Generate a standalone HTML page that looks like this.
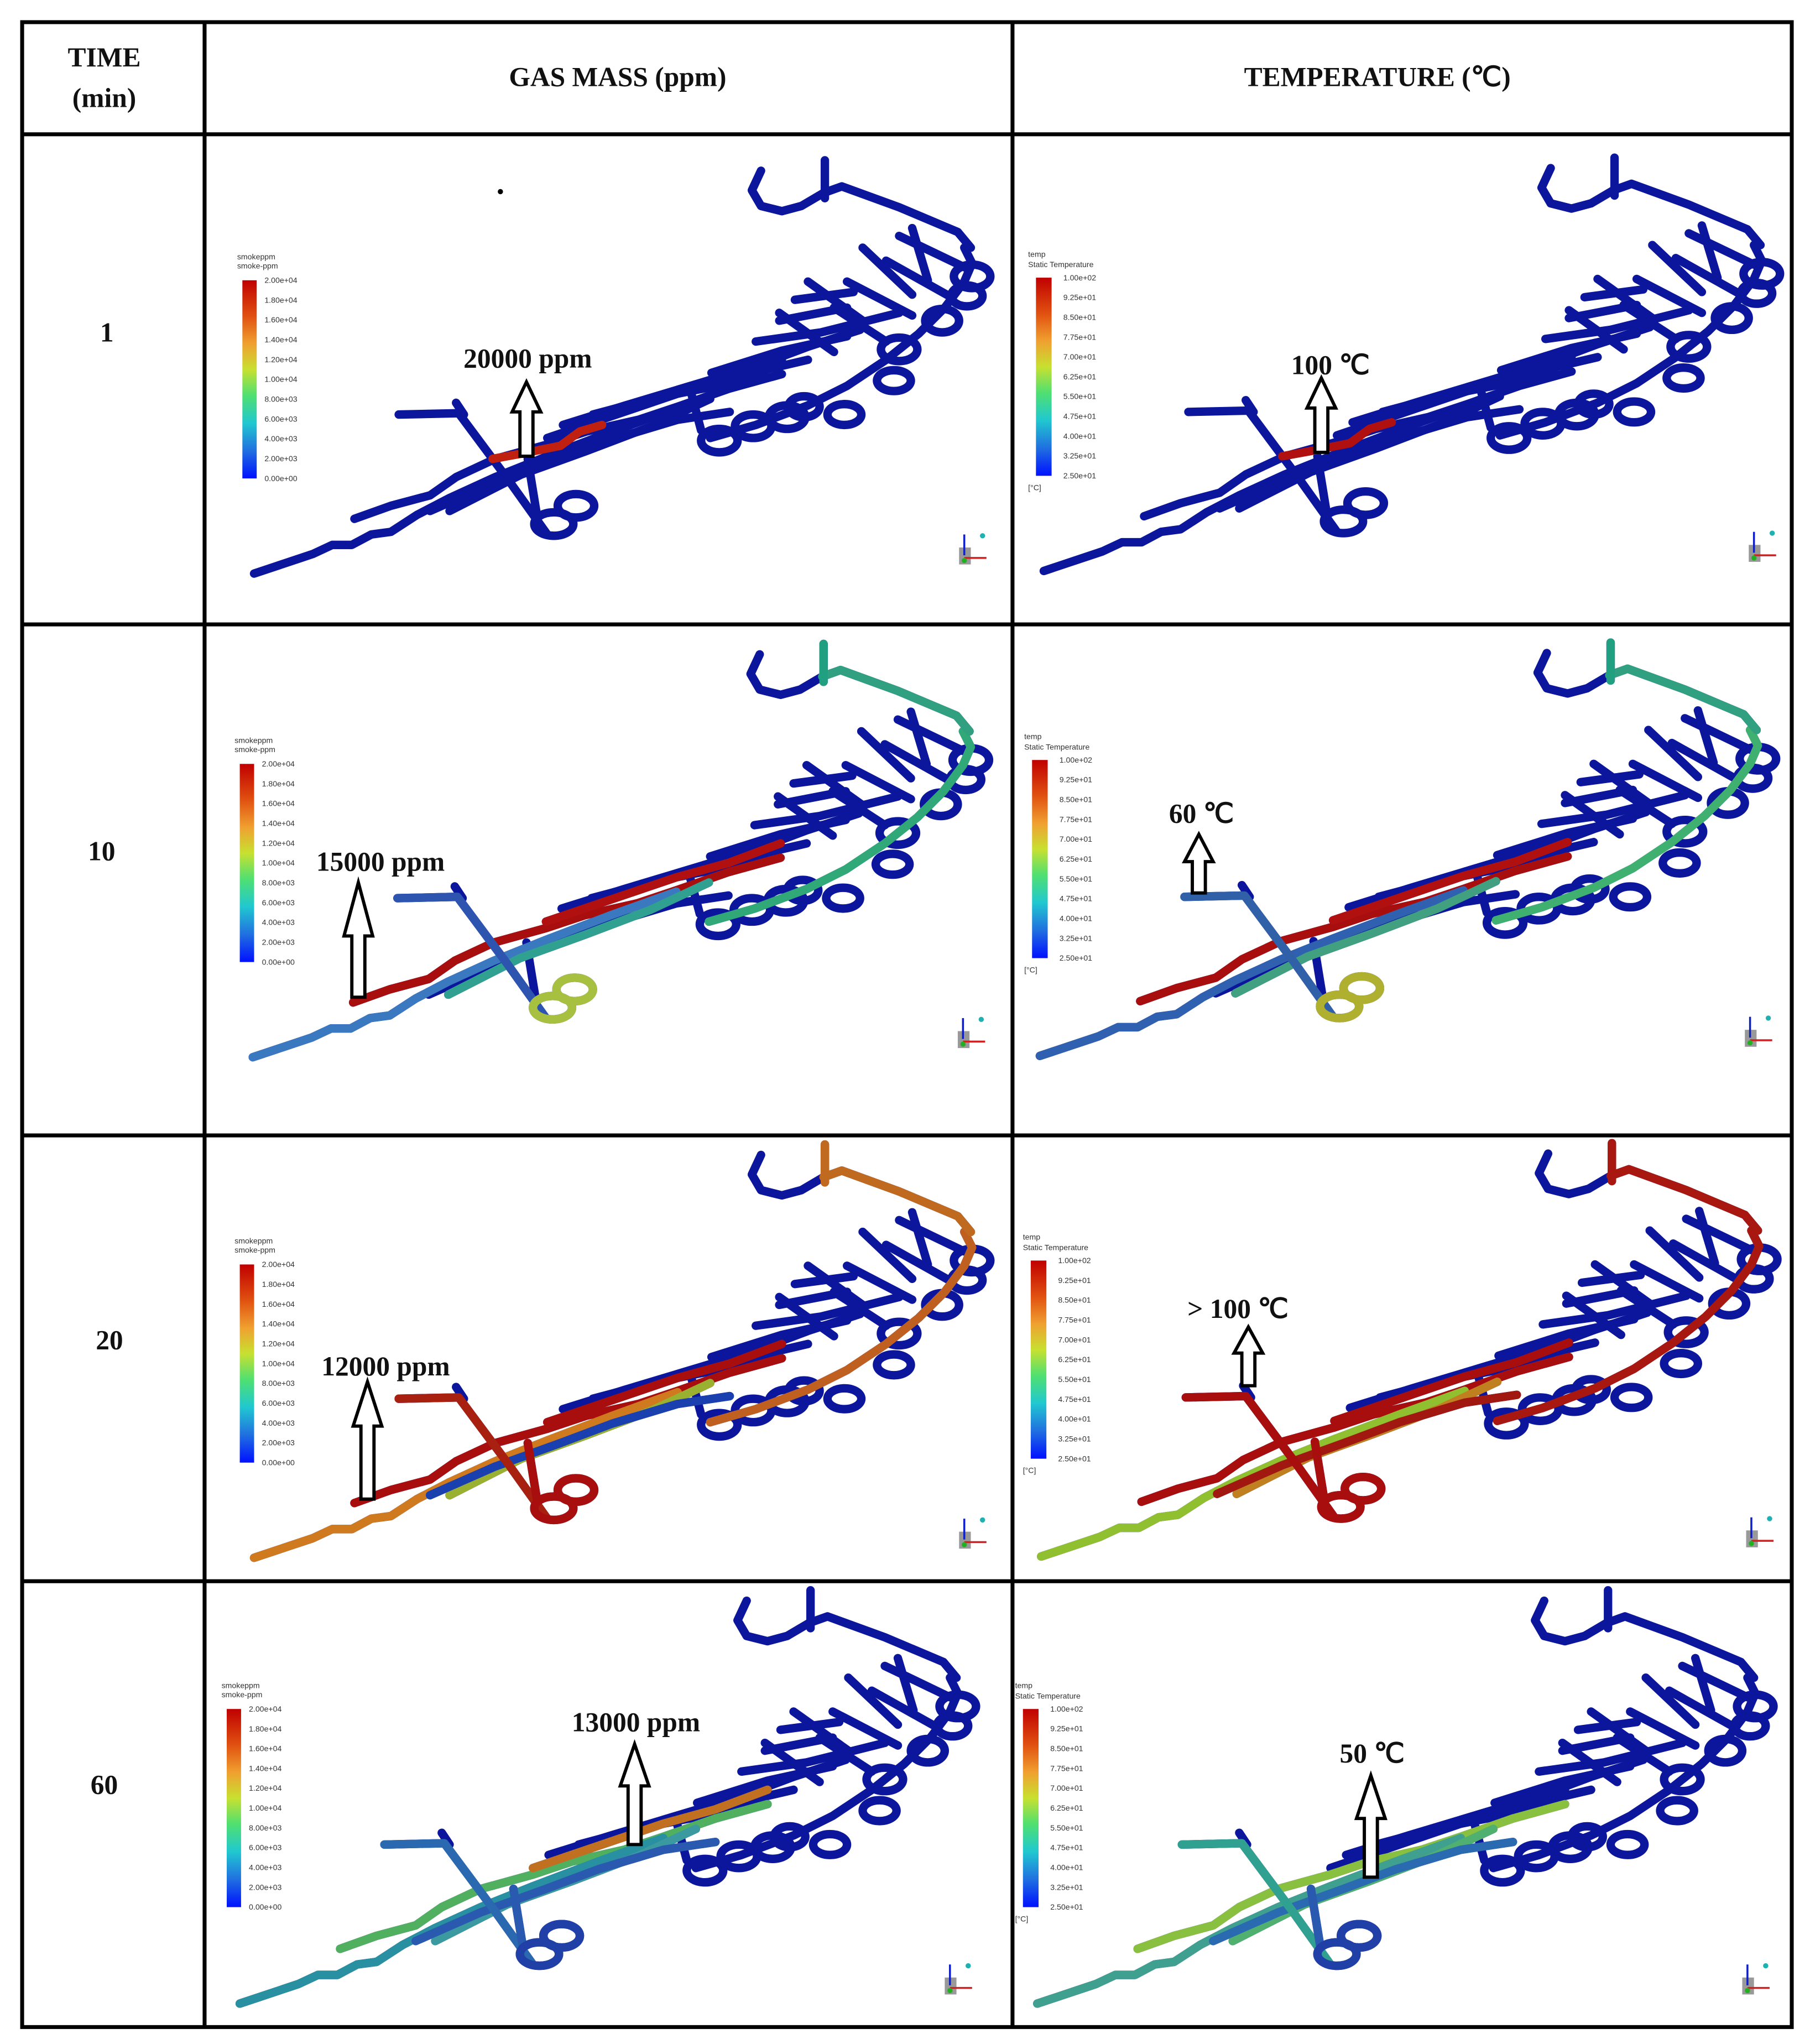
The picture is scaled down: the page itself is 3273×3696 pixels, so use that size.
<!DOCTYPE html>
<html><head><meta charset="utf-8"><style>
html,body{margin:0;padding:0;background:#fff;}
svg{display:block;}
.hd{font-family:"Liberation Serif",serif;font-weight:bold;font-size:21px;fill:#111;text-anchor:middle;}
.an{font-family:"Liberation Serif",serif;font-weight:bold;font-size:21px;fill:#111;text-anchor:middle;}
.lg{font-family:"Liberation Sans",sans-serif;font-size:6px;fill:#333;}
</style></head><body>
<svg id="fig" width="3273" height="3696" viewBox="0 0 1389 1568" preserveAspectRatio="none" xmlns="http://www.w3.org/2000/svg">
<defs>
<linearGradient id="cmap" x1="0" y1="0" x2="0" y2="1">
<stop offset="0" stop-color="#c00000"/><stop offset="0.18" stop-color="#e05010"/><stop offset="0.32" stop-color="#f0a030"/><stop offset="0.45" stop-color="#c8e030"/><stop offset="0.58" stop-color="#50e070"/><stop offset="0.72" stop-color="#20c8d0"/><stop offset="0.86" stop-color="#2070e0"/><stop offset="1" stop-color="#0010ff"/>
</linearGradient>
<path id="pTrunk" d="M195,440 L240,425 L255,418 L270,418 L285,410 L300,408 L320,395 L345,382 L380,366 L420,350 L470,331 L520,313"/>
<path id="pUpper" d="M272,398 L300,388 L330,380 L350,366 L380,352 L420,341 L450,331 L490,322 L520,312 L560,298 L600,287"/>
<path id="pMid1" d="M330,392 L380,370 L430,352 L470,337 L520,322 L560,316"/>
<path id="pMid2" d="M345,392 L400,364 L450,346 L500,327 L545,306"/>
<path id="pBranch" d="M306,318 L352,317 L390,368 L420,410"/>
<path id="pBranchTop" d="M350,309 L356,318"/>
<path id="pC1" d="M420,336 L470,319 L520,302 L560,291 L600,276"/>
<path id="pC2" d="M432,326 L480,311 L530,296 L580,281"/>
<path id="pC3" d="M455,318 L500,306 L550,296 L590,283 L620,276"/>
<path id="pC4" d="M520,299 L580,281 L620,266 L660,253"/>
<path id="pC5" d="M546,286 L600,269 L650,258"/>
<path id="pC6" d="M580,262 L630,255 L690,240"/>
<path id="pC7" d="M598,246 L650,236"/>
<path id="pC8" d="M610,230 L655,224"/>
<path id="pSpine" d="M740,190 L746,202 L740,216 L725,236 L705,256 L680,276 L650,296 L620,311 L580,326 L545,336"/>
<path id="pHook" d="M584,131 L577,146 L584,158 L600,162 L615,158 L632,148"/>
<path id="pTopR" d="M632,148 L646,143 L690,159 L735,178 L745,190"/>
<path id="pTopStem" d="M633,123 L633,152"/>
<path id="pX1" d="M690,181 L740,205"/>
<path id="pX2" d="M680,200 L730,228"/>
<path id="pX3" d="M650,216 L700,242"/>
<path id="pX4" d="M640,236 L680,262"/>
<path id="pX5" d="M700,175 L712,215"/>
<path id="pX6" d="M662,190 L700,226"/>
<path id="pX7" d="M620,216 L662,246"/>
<path id="pX8" d="M598,240 L640,270"/>
<path id="pX9" d="M530,300 L538,330"/>
<path id="pX10" d="M405,352 L412,395"/>
<path id="pHot1" d="M378,352 L400,348 L430,342 L445,331 L462,326"/>
<g id="loopsA">
<ellipse cx="425" cy="402" rx="15" ry="9"/><ellipse cx="442" cy="388" rx="14" ry="9"/>
</g>
<g id="loopsB">
<ellipse cx="552" cy="338" rx="14" ry="9"/><ellipse cx="578" cy="327" rx="14" ry="9"/>
<ellipse cx="604" cy="320" rx="14" ry="9"/><ellipse cx="617" cy="312" rx="12" ry="8"/>
<ellipse cx="690" cy="268" rx="14" ry="9"/><ellipse cx="686" cy="292" rx="13" ry="8"/>
<ellipse cx="723" cy="246" rx="13" ry="9"/><ellipse cx="746" cy="212" rx="14" ry="9"/>
<ellipse cx="742" cy="227" rx="12" ry="8"/><ellipse cx="648" cy="318" rx="13" ry="8"/>
</g>
<g id="net" fill="none" stroke-linecap="round" stroke-linejoin="round">
<use href="#pTrunk"/><use href="#pUpper"/><use href="#pMid1"/><use href="#pMid2"/><use href="#pBranch"/><use href="#pBranchTop"/>
<use href="#pC1"/><use href="#pC2"/><use href="#pC3"/><use href="#pC4"/><use href="#pC5"/><use href="#pC6"/><use href="#pC7"/><use href="#pC8"/>
<use href="#pSpine"/><use href="#pHook"/><use href="#pTopR"/><use href="#pTopStem"/>
<use href="#pX1"/><use href="#pX2"/><use href="#pX3"/><use href="#pX4"/><use href="#pX5"/><use href="#pX6"/><use href="#pX7"/><use href="#pX8"/><use href="#pX9"/><use href="#pX10"/>
<use href="#loopsA"/><use href="#loopsB"/>
</g>
<g id="triad">
<rect x="736" y="420" width="9" height="13" fill="#999"/>
<line x1="740" y1="410" x2="740" y2="426" stroke="#1020c0" stroke-width="1.5"/>
<line x1="740" y1="428" x2="757" y2="428" stroke="#d02020" stroke-width="1.5"/>
<circle cx="740" cy="430" r="2" fill="#20b020"/>
<circle cx="754" cy="411" r="2" fill="#20b0b0"/>
</g>
</defs>

<g stroke="#000" stroke-width="3" fill="none">
<rect x="17" y="17" width="1358" height="1538"/>
<line x1="157" y1="17" x2="157" y2="1555"/><line x1="777" y1="17" x2="777" y2="1555"/>
<line x1="17" y1="103" x2="1375" y2="103"/><line x1="17" y1="479" x2="1375" y2="479"/>
<line x1="17" y1="871" x2="1375" y2="871"/><line x1="17" y1="1213" x2="1375" y2="1213"/>
</g>
<text class="hd" x="80" y="51">TIME</text>
<text class="hd" x="80" y="82">(min)</text>
<text class="hd" x="474" y="66">GAS MASS (ppm)</text>
<text class="hd" x="1057" y="66">TEMPERATURE (℃)</text>
<text class="hd" x="82" y="262">1</text>
<text class="hd" x="78" y="660">10</text>
<text class="hd" x="84" y="1035">20</text>
<text class="hd" x="80" y="1376">60</text>
<circle cx="384" cy="147" r="2" fill="#000"/>

<g id="cells"></g>
<g id="legends"></g>

<g><text class="an" x="405" y="282">20000 ppm</text><polygon points="404,293 415,316 409,316 409,350 399,350 399,316 393,316" fill="#fff" stroke="#000" stroke-width="2.5"/></g>
<g><text class="an" x="1021" y="287">100 ℃</text><polygon points="1014,290 1025,313 1019,313 1019,347 1009,347 1009,313 1003,313" fill="#fff" stroke="#000" stroke-width="2.5"/></g>
<g><text class="an" x="292" y="668">15000 ppm</text><polygon points="275,677 286,718 280,718 280,765 270,765 270,718 264,718" fill="#fff" stroke="#000" stroke-width="2.5"/></g>
<g><text class="an" x="922" y="631">60 ℃</text><polygon points="920,640 931,661 925,661 925,685 915,685 915,661 909,661" fill="#fff" stroke="#000" stroke-width="2.5"/></g>
<g><text class="an" x="296" y="1055">12000 ppm</text><polygon points="282,1060 293,1094 287,1094 287,1150 277,1150 277,1094 271,1094" fill="#fff" stroke="#000" stroke-width="2.5"/></g>
<g><text class="an" x="950" y="1011">&gt; 100 ℃</text><polygon points="958,1018 969,1038 963,1038 963,1063 953,1063 953,1038 947,1038" fill="#fff" stroke="#000" stroke-width="2.5"/></g>
<g><text class="an" x="488" y="1328">13000 ppm</text><polygon points="487,1338 498,1370 492,1370 492,1415 482,1415 482,1370 476,1370" fill="#fff" stroke="#000" stroke-width="2.5"/></g>
<g><text class="an" x="1053" y="1352">50 ℃</text><polygon points="1052,1362 1063,1395 1057,1395 1057,1440 1047,1440 1047,1395 1041,1395" fill="#fff" stroke="#000" stroke-width="2.5"/></g>
</svg>
<script>
const NS = "http://www.w3.org/2000/svg";
const cellNames = ["r1-gas","r1-temp","r2-gas","r2-temp","r3-gas","r3-temp","r4-gas","r4-temp"];
const cellDx = [0,606,-1,603,0,604,-11,601];
const cellDy = [0,-2,371,370,755,754,1097,1097];
const BLUE = "#0b169c";
const overlays = [
  [["pHot1","#c02010"]],
  [["pHot1","#b01010"]],
  [["pUpper","#a80e0e"],["pTrunk","#3a78c0"],["pMid2","#30a090"],["pSpine","#30a878"],["pTopR","#30a080"],["pTopStem","#20a080"],["pC1","#b01010"],["pBranch","#2d55b0"],["loopsA","#a8c040"]],
  [["pUpper","#a80e0e"],["pTrunk","#3060b0"],["pMid2","#40a080"],["pSpine","#40b070"],["pTopR","#30a080"],["pTopStem","#20a080"],["pC1","#b01010"],["pBranch","#3060a8"],["loopsA","#b0b030"]],
  [["pUpper","#a80e0e"],["pTrunk","#d07a20"],["pMid2","#9ab030"],["pMid1","#1a40b0"],["pBranch","#a82010"],["pSpine","#c06020"],["pTopR","#c06a20"],["pTopStem","#c06a20"],["pC1","#a80e0e"],["pX10","#a80e0e"],["loopsA","#a80e0e"]],
  [["pUpper","#a80e0e"],["pTrunk","#90c030"],["pMid2","#c08020"],["pMid1","#a01810"],["pBranch","#a80e0e"],["pSpine","#a81810"],["pTopR","#a81810"],["pTopStem","#a81810"],["pC1","#a80e0e"],["pX10","#a80e0e"],["loopsA","#a80e0e"]],
  [["pUpper","#50b060"],["pTrunk","#2890a0"],["pMid2","#3a9aa0"],["pMid1","#2a5ab0"],["pBranch","#2a68b0"],["pC1","#c07020"],["pX10","#2a5ab0"],["loopsA","#2040a8"]],
  [["pUpper","#8ac040"],["pTrunk","#40a090"],["pMid2","#50b070"],["pMid1","#2a6ab0"],["pBranch","#30a090"],["pX10","#2a5ab0"],["loopsA","#2040a8"]]
];
const gasTicks = ["2.00e+04","1.80e+04","1.60e+04","1.40e+04","1.20e+04","1.00e+04","8.00e+03","6.00e+03","4.00e+03","2.00e+03","0.00e+00"];
const tempTicks = ["1.00e+02","9.25e+01","8.50e+01","7.75e+01","7.00e+01","6.25e+01","5.50e+01","4.75e+01","4.00e+01","3.25e+01","2.50e+01"];
const legDx = [0,0,-2,-3,-2,-4,-12,-10];
const legDy = [0,0,371,370,755,754,1096,1098];

const cells = document.getElementById("cells");
for (let i = 0; i < 8; i++) {
  const g = document.createElementNS(NS, "g");
  
  
  g.setAttribute("transform", "translate(" + cellDx[i] + "," + cellDy[i] + ")");
  const base = document.createElementNS(NS, "use");
  base.setAttribute("href", "#net");
  base.setAttribute("stroke", BLUE);
  base.setAttribute("stroke-width", "6.5");
  g.appendChild(base);
  overlays[i].forEach(function (o) {
    const u = document.createElementNS(NS, "use");
    
    
    u.setAttribute("href", "#" + o[0]);
    u.setAttribute("fill", "none");
    u.setAttribute("stroke", o[1]);
    u.setAttribute("stroke-width", "6.5");
    u.setAttribute("stroke-linecap", "round");
    u.setAttribute("stroke-linejoin", "round");
    g.appendChild(u);
  });
  const tr = document.createElementNS(NS, "use");
  
  
  tr.setAttribute("href", "#triad");
  g.appendChild(tr);
  cells.appendChild(g);
}

const legends = document.getElementById("legends");
function txt(parent, x, y, s, size) {
  const t = document.createElementNS(NS, "text");
  t.setAttribute("class", "lg");
  t.setAttribute("x", x);
  t.setAttribute("y", y);
  if (size) t.setAttribute("font-size", size);
  t.textContent = s;
  parent.appendChild(t);
  return t;
}
for (let i = 0; i < 8; i++) {
  const isTemp = i % 2 === 1;
  const g = document.createElementNS(NS, "g");
  
  
  g.setAttribute("transform", "translate(" + legDx[i] + "," + legDy[i] + ")");
  const bx = isTemp ? 795 : 186, by = isTemp ? 213 : 215, bw = isTemp ? 12 : 11, bh = 152;
  if (isTemp) { txt(g, 789, 197, "temp", 7); txt(g, 789, 205, "Static Temperature", 7); txt(g, 789, 376, "[°C]", 7); }
  else { txt(g, 182, 199, "smokeppm"); txt(g, 182, 206, "smoke-ppm"); }
  const r = document.createElementNS(NS, "rect");
  
  
  r.setAttribute("x", bx); r.setAttribute("y", by);
  r.setAttribute("width", bw); r.setAttribute("height", bh);
  r.setAttribute("fill", "url(#cmap)");
  g.appendChild(r);
  const ticks = isTemp ? tempTicks : gasTicks;
  ticks.forEach(function (s, k) {
    const t = txt(g, bx + bw + (isTemp ? 9 : 6), by + 2 + k * bh / (ticks.length - 1), s, isTemp ? 7 : 5.5);
    
    
  });
  legends.appendChild(g);
}
</script>
</body></html>
